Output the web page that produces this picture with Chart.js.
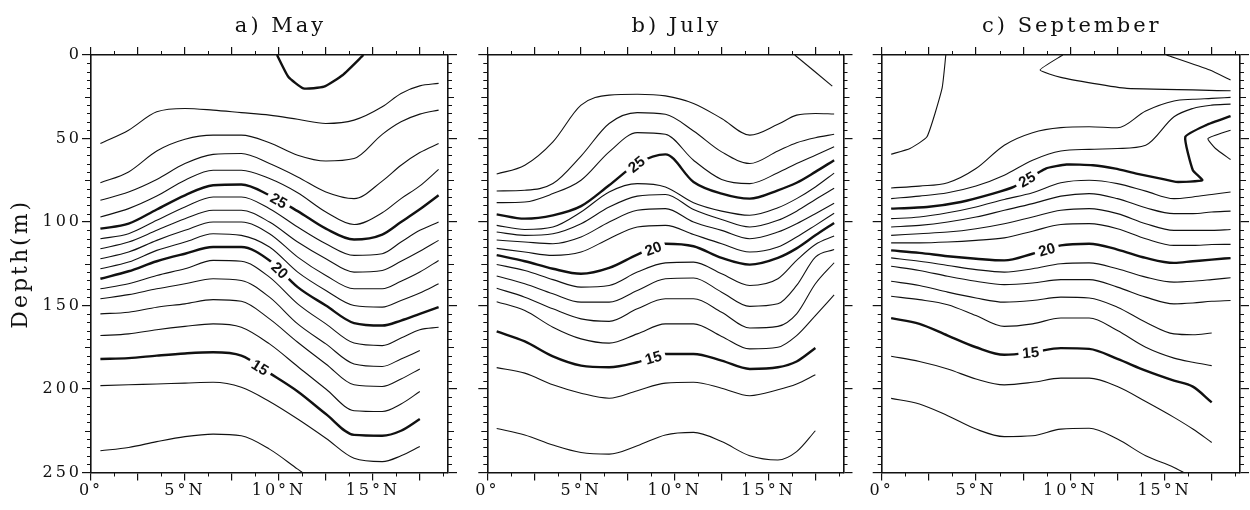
<!DOCTYPE html>
<html>
<head>
<meta charset="utf-8">
<title>Temperature sections</title>
<script src="https://cdn.jsdelivr.net/npm/chart.js@4.4.1/dist/chart.umd.min.js"></script>
<style>
  body { margin: 0; background: #fff; }
  #wrap { position: relative; width: 1250px; height: 510px; }
  canvas { position: absolute; top: 0; }
</style>
</head>
<body>
<div id="wrap">
  <canvas id="may" width="470" height="510" style="left:0px"></canvas>
  <canvas id="july" width="390" height="510" style="left:470px"></canvas>
  <canvas id="sept" width="390" height="510" style="left:860px"></canvas>
</div>
<script>
// latitude grid (deg N) the isotherm depths are read on
const LATS = [0.5, 2, 3.5, 5, 6.5, 8, 9.5, 11, 12.5, 14, 15.5, 16.5, 17.5, 18.5];
const LAT_TICKS = [0, 5, 10, 15];
const LAT_LABELS = ['0°', '5°N', '10°N', '15°N'];
const DEPTH_TICKS = [0, 50, 100, 150, 200, 250];
const BOLD_LEVELS = [30, 25, 20, 15];

// a) May - isotherm depth (m)
const may29 = [53, 45, 34, 32, 33, 34.5, 36, 38.5, 41, 39, 31, 23, 18.5, 17];
const may28 = [76.5, 70, 57.5, 50.5, 48, 48, 52.5, 60, 63.5, 62, 47.5, 40, 35.4, 33];
const may27 = [87, 82, 74.5, 65, 59.5, 59, 65, 73, 82, 86, 75.5, 66, 58.4, 53];
const may26 = [97, 92, 84.5, 75, 69, 69, 74, 82.5, 94, 101.5, 94.5, 86, 78.4, 68.5];
const may25 = [104, 101, 92.5, 84, 78, 77.5, 84, 93.5, 104, 110.5, 107.5, 100, 92.4, 84];
const may24 = [110, 107, 99, 91, 85, 85, 92, 103, 113, 120, 119, 112, 105, 100];
const may23 = [116, 112, 105, 98, 93, 93, 100, 112, 122, 130, 129, 123.5, 117.5, 111];
const may22 = [122, 118, 111, 105, 100, 100, 107, 121, 132, 140, 140, 135.5, 130, 123];
const may21 = [128, 124, 117, 112, 107, 108, 115, 130, 141, 150, 151, 147, 142.5, 137];
const may20 = [134, 129.5, 123.5, 119, 115, 115, 123, 139, 150, 160.5, 162, 159, 155, 151];
const may19 = [140, 137, 132, 128, 123, 123.5, 133, 149, 161, 172.5, 174, 169.5, 164.5, 163];
const may18 = [146, 143.5, 140, 137, 134, 135, 145, 161, 173, 185, 186.5, 182, 177, null];
const may17 = [155, 154, 151, 149, 146.5, 147.5, 158, 172, 185, 197.5, 198.5, 194, 188, null];
const may16 = [168, 167, 164.5, 162.5, 161, 163, 173, 186.5, 200, 213, 213.5, 209, 201.5, null];
const may15 = [182, 181.5, 180, 178.7, 178, 180, 190.5, 201.5, 215, 227.5, 228, 225, 218, null];
const may14 = [198, 197.5, 197, 196.5, 196, 199, 207.5, 218, 229.5, 241.5, 243.5, 240, 234.5, null];
const may13 = [237, 235, 231.5, 228.5, 227, 228, 236, 248, 260, null, null, null, null, null];
const mayLevels = [29, 28, 27, 26, 25, 24, 23, 22, 21, 20, 19, 18, 17, 16, 15, 14, 13];
const mayLines = [may29, may28, may27, may26, may25, may24, may23, may22, may21, may20,
                  may19, may18, may17, may16, may15, may14, may13];
const may30Lats = [9.9, 10.5, 11.3, 12.4, 13.4, 14.5];
const may30Depths = [0, 13, 20, 19, 12, 0];
const mayLabelLevels = [25, 20, 15];
const mayLabelLats = [10.0, 10.05, 9.0];

// b) July
const jul28 = [71.3, 66, 52, 30, 24, 23.5, 24.5, 29, 38, 48, 41.5, 36, 35, 35.3];
const jul27 = [81.4, 81, 77, 60.5, 41, 34.5, 35.5, 45.5, 58, 65, 57.5, 52.5, 49.5, 47.5];
const jul26 = [88.4, 88, 83, 75, 58, 46.5, 47.5, 63, 74.5, 77, 70.5, 65, 60, 55];
const jul25 = [95.4, 98, 96, 90.5, 78, 65, 59.5, 76, 83, 86, 81, 76.5, 70, 63];
const jul24 = [102, 104.5, 103, 94, 82, 77, 79, 88.5, 93.5, 96, 91.5, 86, 79, 70.7];
const jul23 = [106, 108, 107, 101, 91, 84.5, 83.5, 92.5, 98.5, 103, 99, 93.5, 86.5, 79.8];
const jul22 = [110.8, 112, 113, 109, 100, 93, 92, 100, 105, 110, 106, 101, 95, 88.8];
const jul21 = [115.8, 118, 120, 118, 110, 103, 102, 107.5, 113, 118, 115, 109, 102, 94.8];
const jul20 = [119.8, 123.5, 128, 131, 127.5, 119.5, 113, 114.5, 121.5, 125.5, 121.5, 115.8, 108, 100.6];
const jul19 = [125.5, 129, 134.5, 139, 138, 130, 124.5, 124, 131, 138, 134, 123, 113.5, 108.4];
const jul18 = [132.3, 137, 143, 148, 148, 141, 134, 133.5, 142, 150.5, 149, 138, 121, 116.4];
const jul17 = [139.7, 145, 152, 158, 159.5, 152, 146, 146, 154, 163.5, 162.5, 155, 137, 124.4];
const jul16 = [147.7, 153, 163, 170, 172.5, 167, 161, 161, 168.5, 176, 175, 168, 156, 143.7];
const jul15 = [165.5, 171.5, 180.5, 186, 187, 184, 179, 179, 183, 188, 187, 183.5, 175.5, null];
const jul14 = [187.2, 190.5, 197.5, 202.5, 205.5, 201, 196.5, 196, 199.5, 204, 200.5, 197, 191.5, null];
const jul13 = [223.6, 227.5, 233.5, 238, 239, 234, 227.5, 226, 231.5, 240, 242.5, 237.5, 225, null];
const julLevels = [28, 27, 26, 25, 24, 23, 22, 21, 20, 19, 18, 17, 16, 15, 14, 13];
const julLines = [jul28, jul27, jul26, jul25, jul24, jul23, jul22, jul21, jul20,
                  jul19, jul18, jul17, jul16, jul15, jul14, jul13];
const jul29Lats = [16.4, 18.4];
const jul29Depths = [0, 18.6];
const julLabelLevels = [25, 20, 15];
const julLabelLats = [7.95, 8.85, 8.85];

// c) September
const sep27 = [79.6, 78.5, 76.5, 68, 54, 46.5, 43.5, 43, 43.6, 33.5, 27.5, 26.5, 26, 25.4];
const sep26 = [86, 84.5, 82.5, 78.5, 72, 63, 57.5, 56.5, 56, 54, 37, 32, 30, 29.4];
const sep24 = [98, 97, 94.5, 91, 86.5, 82.5, 76.5, 75, 77, 81.5, 86, 85, 83.5, 82];
const sep23 = [103, 102, 100, 97, 93, 89, 84.5, 83, 86, 91.5, 95, 95, 94, 93.5];
const sep22 = [108, 107, 106, 104, 101, 97, 93, 92, 95, 101, 105, 105, 105, 104.5];
const sep21 = [112.5, 112.5, 112, 111, 109.5, 105.5, 101.5, 101, 104, 110, 114, 114, 113.5, 113.4];
const sep20 = [117, 118.5, 120.5, 122, 123, 119, 114, 113, 116.5, 121.5, 124.5, 123.5, 122.5, 121.6];
const sep19 = [121.5, 123.5, 126, 128.5, 130, 128, 125, 124.5, 128, 133, 136, 135.5, 134.5, 133.4];
const sep18 = [126.5, 129, 132.5, 135.5, 137.5, 136.5, 134.5, 134.5, 139, 145, 149, 148.5, 147.5, 147];
const sep17 = [135.5, 138, 142, 145.5, 148, 147, 145, 145.5, 151, 160, 167, 167.5, 166.5, null];
const sep16 = [144.5, 146.5, 149.5, 156, 162.5, 161, 157.5, 157.5, 165, 175, 181.5, 184, 186, null];
const sep15 = [157.6, 161, 168, 175, 179.5, 178, 175.5, 176, 182, 189, 195, 198.6, 208, null];
const sep14 = [180.4, 183.5, 188, 194, 197.5, 196, 193.5, 193.5, 198.5, 207.5, 217, 224, 232, null];
const sep13 = [205.6, 209, 216, 224, 228.5, 228, 224, 223.5, 230, 240, 247, 253, null, null];
const sepLevels = [27, 26, 24, 23, 22, 21, 20, 19, 18, 17, 16, 15, 14, 13];
const sepLines = [sep27, sep26, sep24, sep23, sep22, sep21, sep20, sep19, sep18,
                  sep17, sep16, sep15, sep14, sep13];
// isotherms that fold back on themselves are kept as (lat, depth) pairs
const sep25Lats = [0.5, 2.4, 4.2, 5.9, 7, 8.7, 9.8, 11.2, 12.4, 13.5, 14.8, 15.6, 17, 16.5, 16.1, 17.2, 18.5];
const sep25Depths = [92, 91, 88, 83, 79, 68, 65.6, 66, 68, 71, 74, 76, 75, 69, 49, 42, 36.6];
const sep29aLats = [0.5, 1.5, 2.4, 3.2, 3.4];
const sep29aDepths = [59.4, 56, 49, 20, 0];
const sep28Lats = [9.6, 8.4, 9.5, 11.2, 13, 18.5];
const sep28Depths = [0, 9, 13.4, 17, 20, 21.4];
const sep29bLats = [15.1, 17.4, 18.5];
const sep29bDepths = [0, 9, 15];
const sep26bLats = [18.5, 17.3, 17.7, 18.5];
const sep26bDepths = [45, 50, 56, 62.6];
const sepLabelLevels = [25, 20, 15];
const sepLabelLats = [7.7, 8.75, 7.9];

const SERIF = '"DejaVu Serif", "Liberation Serif", serif';
const INK = '#111';

function toPoints(lats, depths) {
    return lats.map(function (lat, i) { return { x: lat, y: depths[i] }; });
}

function lineDataset(level, points, onGrid) {
    return {
        level: level,
        data: points,
        showLine: true,
        borderColor: INK,
        borderWidth: BOLD_LEVELS.indexOf(level) >= 0 ? 2.4 : 1.1,
        pointRadius: 0,
        pointHitRadius: 0,
        spanGaps: false,
        cubicInterpolationMode: onGrid ? 'monotone' : 'default',
        tension: onGrid ? 0 : 0.15
    };
}

function latAxis(position, height, showLabels) {
    return {
        type: 'linear', position: position, min: 0, max: 19,
        ticks: {
            stepSize: 2.5, includeBounds: false, autoSkip: false, maxRotation: 0,
            display: showLabels, padding: 1, color: INK,
            font: { family: SERIF, size: 16 },
            callback: function (v) {
                var k = LAT_TICKS.indexOf(v);
                return k >= 0 ? LAT_LABELS[k] : '';
            }
        },
        grid: { drawOnChartArea: false, tickLength: 8, tickColor: INK, lineWidth: 1.2 },
        border: { color: INK, width: 1.6 },
        afterFit: function (s) { s.height = height; }
    };
}

function depthAxis(position, width, showLabels, title) {
    return {
        type: 'linear', position: position, reverse: true, min: 0, max: 250,
        ticks: {
            stepSize: 50, display: showLabels, padding: 0, color: INK,
            font: { family: SERIF, size: 16 },
            callback: function (v) { return DEPTH_TICKS.indexOf(v) >= 0 ? String(v) : ''; }
        },
        grid: { drawOnChartArea: false, tickLength: 9, tickColor: INK, lineWidth: 1.2 },
        border: { color: INK, width: 1.6 },
        title: title ? {
            display: true, text: title, color: INK,
            font: { family: SERIF, size: 22 }, padding: { top: 8, bottom: 0 }
        } : { display: false },
        afterFit: function (s) { s.width = width; }
    };
}

function drawSection(id, sec) {
    var datasets = sec.levels.map(function (lv, i) {
        return lineDataset(lv, toPoints(LATS, sec.lines[i]), true);
    });
    sec.extra.forEach(function (e) {
        datasets.push(lineDataset(e[0], toPoints(e[1], e[2]), false));
    });

    // spaced lettering, minor ticks and the panel title
    var decor = {
        id: 'decor',
        beforeDraw: function (chart) { chart.ctx.letterSpacing = '3px'; },
        afterDraw: function (chart) {
            var ctx = chart.ctx, a = chart.chartArea;
            var xs = chart.scales.x, ys = chart.scales.y;
            ctx.save();
            ctx.strokeStyle = INK;
            ctx.lineWidth = 1;
            ctx.beginPath();
            for (var v = 1.25; v < 19; v += 2.5) {
                var px = Math.round(xs.getPixelForValue(v)) + 0.5;
                ctx.moveTo(px, a.bottom); ctx.lineTo(px, a.bottom + 4);
                ctx.moveTo(px, a.top); ctx.lineTo(px, a.top - 4);
            }
            for (var d = 5; d < 250; d += 5) {
                if (d % 50 === 0) continue;
                var len = d % 25 === 0 ? 6 : 4;
                var py = Math.round(ys.getPixelForValue(d)) + 0.5;
                ctx.moveTo(a.left - len, py); ctx.lineTo(a.left, py);
                ctx.moveTo(a.right, py); ctx.lineTo(a.right + len, py);
            }
            ctx.stroke();
            ctx.font = '21px ' + SERIF;
            ctx.letterSpacing = '3px';
            ctx.fillStyle = INK;
            ctx.textAlign = 'center';
            ctx.textBaseline = 'alphabetic';
            ctx.fillText(sec.title, (a.left + a.right) / 2 + 11, 32);
            ctx.restore();
        }
    };

    // isotherm labels sitting in a gap of their own line
    var labels = {
        id: 'isoLabels',
        afterDatasetsDraw: function (chart) {
            var ctx = chart.ctx;
            sec.labelLevels.forEach(function (lv, j) {
                var di = chart.data.datasets.findIndex(function (ds) { return ds.level === lv; });
                if (di < 0) return;
                var pts = chart.getDatasetMeta(di).data;
                var px = chart.scales.x.getPixelForValue(sec.labelLats[j]);
                for (var k = 0; k < pts.length - 1; k++) {
                    var p0 = pts[k], p1 = pts[k + 1];
                    if (p0.skip || p1.skip) continue;
                    if (p0.x <= px && p1.x >= px) {
                        var t = (px - p0.x) / (p1.x - p0.x);
                        var py = p0.y + t * (p1.y - p0.y);
                        var ang = Math.atan2(p1.y - p0.y, p1.x - p0.x);
                        ctx.save();
                        ctx.letterSpacing = '0px';
                        ctx.translate(px, py);
                        ctx.rotate(ang);
                        ctx.font = 'bold 15px "Liberation Sans", Arial, sans-serif';
                        var w = ctx.measureText(String(lv)).width;
                        ctx.fillStyle = '#fff';
                        ctx.fillRect(-w / 2 - 4, -5.5, w + 8, 11);
                        ctx.fillStyle = INK;
                        ctx.textAlign = 'center';
                        ctx.textBaseline = 'middle';
                        ctx.fillText(String(lv), 0, 1);
                        ctx.restore();
                        break;
                    }
                }
            });
        }
    };

    new Chart(document.getElementById(id), {
        type: 'scatter',
        data: { datasets: datasets },
        options: {
            responsive: false,
            animation: false,
            devicePixelRatio: 1,
            layout: { padding: { left: 0, right: sec.padRight, top: 0, bottom: 0 } },
            plugins: { legend: { display: false }, tooltip: { enabled: false } },
            scales: {
                x: latAxis('bottom', 37.5, true),
                x2: latAxis('top', 55, false),
                y: depthAxis('left', sec.leftWidth, sec.depthLabels, sec.depthLabels ? 'Depth(m)' : null),
                y2: depthAxis('right', sec.rightWidth, false, null)
            }
        },
        plugins: [decor, labels]
    });
}

drawSection('may', {
    title: 'a) May', levels: mayLevels, lines: mayLines,
    extra: [[30, may30Lats, may30Depths]],
    labelLevels: mayLabelLevels, labelLats: mayLabelLats,
    leftWidth: 91, rightWidth: 12, padRight: 10, depthLabels: true
});
drawSection('july', {
    title: 'b) July', levels: julLevels, lines: julLines,
    extra: [[29, jul29Lats, jul29Depths]],
    labelLevels: julLabelLevels, labelLats: julLabelLats,
    leftWidth: 17.3, rightWidth: 12, padRight: 4.5, depthLabels: false
});
drawSection('sept', {
    title: 'c) September', levels: sepLevels, lines: sepLines,
    extra: [[25, sep25Lats, sep25Depths], [29, sep29aLats, sep29aDepths], [28, sep28Lats, sep28Depths],
            [29, sep29bLats, sep29bDepths], [26, sep26bLats, sep26bDepths]],
    labelLevels: sepLabelLevels, labelLats: sepLabelLats,
    leftWidth: 21.7, rightWidth: 10, padRight: 0, depthLabels: false
});
</script>
</body>
</html>
